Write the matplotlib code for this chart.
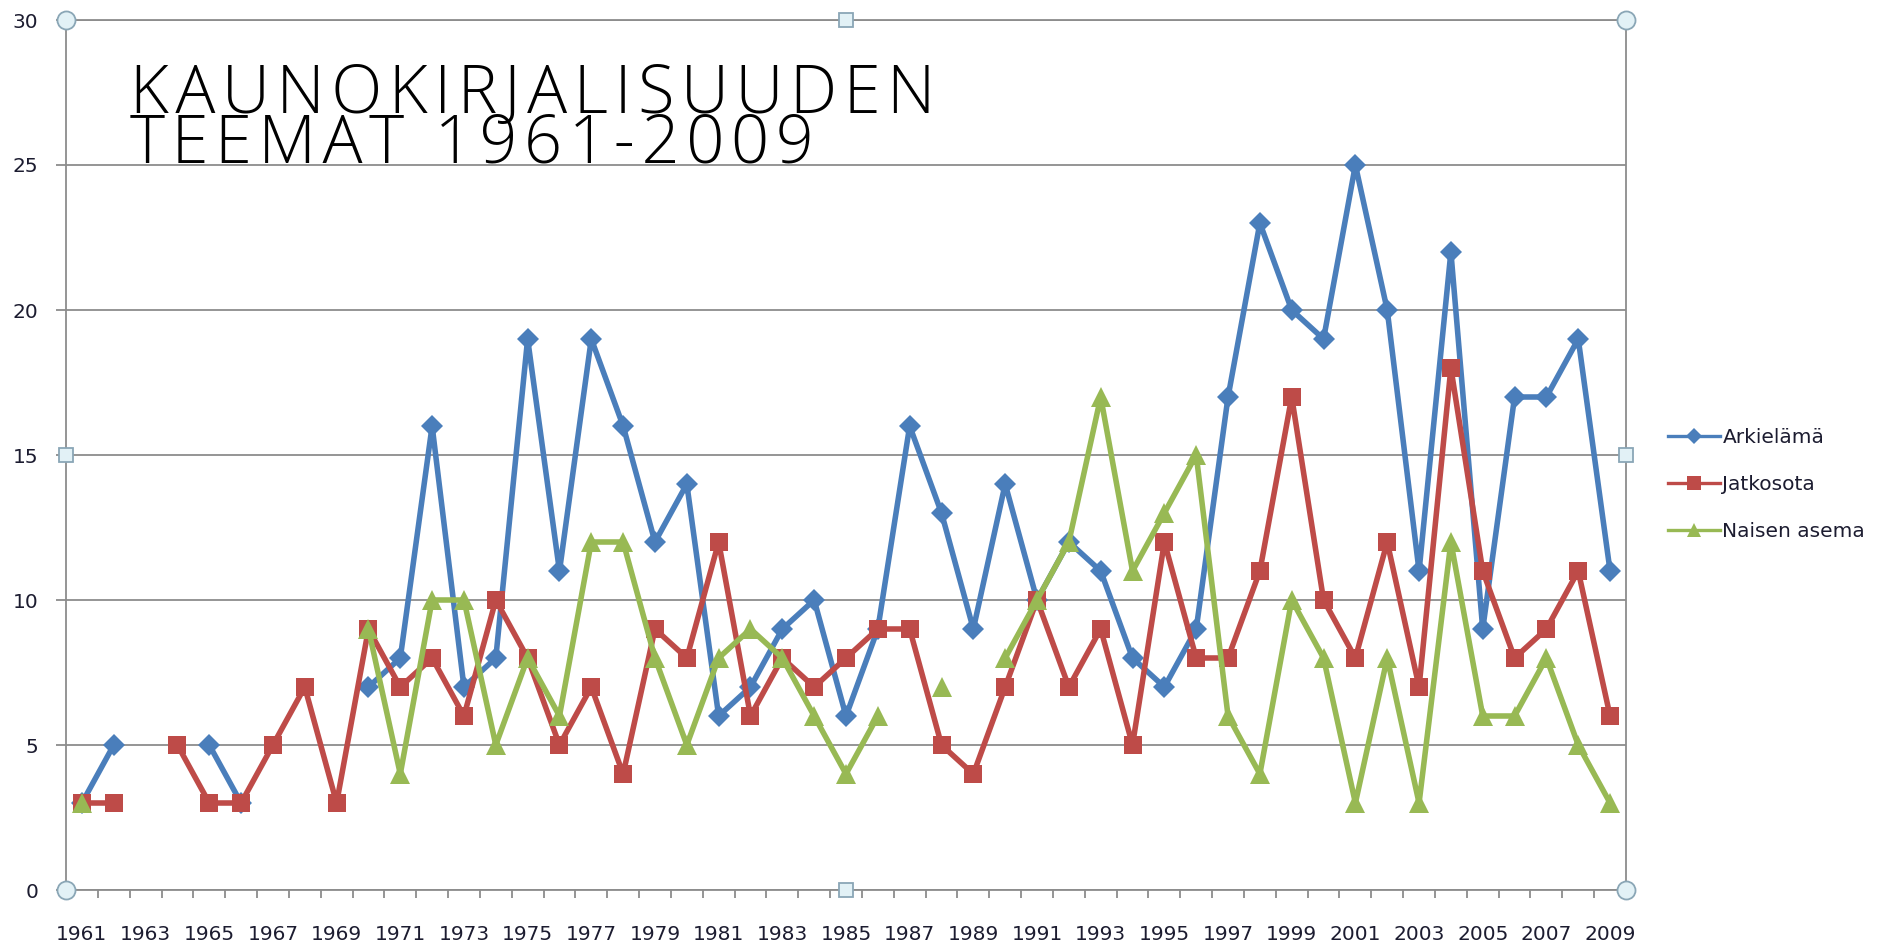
import matplotlib
matplotlib.use('Agg')
import matplotlib.pyplot as plt
from matplotlib.lines import Line2D
import numpy as np

plt.rcParams['font.family'] = ['DejaVu Sans']

nan = np.nan
years = list(range(1961, 2010))
# Arkielämä
arkielama = [3, 5, nan, nan, 5, 3, nan, nan, nan, 7, 8, 16, 7, 8, 19, 11, 19, 16, 12, 14,
             6, 7, 9, 10, 6, 9, 16, 13, 9, 14, 10, 12, 11, 8, 7, 9, 17, 23, 20, 19,
             25, 20, 11, 22, 9, 17, 17, 19, 11]
# Jatkosota
jatkosota = [3, 3, nan, 5, 3, 3, 5, 7, 3, 9, 7, 8, 6, 10, 8, 5, 7, 4, 9, 8,
             12, 6, 8, 7, 8, 9, 9, 5, 4, 7, 10, 7, 9, 5, 12, 8, 8, 11, 17, 10,
             8, 12, 7, 18, 11, 8, 9, 11, 6]
# Naisen asema
naisen_asema = [3, nan, nan, nan, nan, nan, nan, nan, nan, 9, 4, 10, 10, 5, 8, 6, 12, 12, 8, 5,
                8, 9, 8, 6, 4, 6, nan, 7, nan, 8, 10, 12, 17, 11, 13, 15, 6, 4, 10, 8,
                3, 8, 3, 12, 6, 6, 8, 5, 3]

series_names = ['Arkielämä', 'Jatkosota', 'Naisen asema']
title_lines = ['KAUNOKIRJALISUUDEN', 'TEEMAT 1961-2009']
colors = ['#4A7EBB', '#BE4B48', '#98B954']
markers = ['D', 's', '^']
msizes = [11.5, 13.5, 14]

fig = plt.figure(figsize=(18.9, 9.46), dpi=100)
ax = fig.add_axes([66 / 1890, 56 / 946, 1560 / 1890, 870 / 946])

x = np.arange(len(years))
for vals, c, m, ms in zip([arkielama, jatkosota, naisen_asema], colors, markers, msizes):
    ax.plot(x, np.array(vals, dtype=float), color=c, lw=4, marker=m, ms=ms,
            markeredgewidth=0, solid_joinstyle='round', zorder=3)

ax.set_xlim(-0.5, len(years) - 0.5)
ax.set_ylim(0, 30)
ax.set_yticks(range(0, 31, 5))
ax.grid(axis='y', color='#8c8c8c', lw=1.3)
ax.set_axisbelow(True)
for sp in ax.spines.values():
    sp.set_color('#8c8c8c')
    sp.set_linewidth(1.3)

ax.set_xticks(x[::2])
ax.set_xticklabels([str(y) for y in years[::2]])
ax.set_xticks(np.arange(-0.5, len(years), 1), minor=True)
ax.tick_params(axis='x', which='major', length=0, pad=25, labelsize=14.5, labelcolor='#1c1c30')
ax.tick_params(axis='x', which='minor', length=6, width=1.3, color='#8c8c8c')
ax.tick_params(axis='y', length=7, width=1.3, color='#8c8c8c', labelsize=14.5,
               labelcolor='#1c1c30', pad=13)

# selection handles
hkw = dict(transform=ax.transAxes, clip_on=False, ls='none', zorder=5,
           markerfacecolor='#e2f1f6', markeredgecolor='#8aa6b6', markeredgewidth=1.3)
ax.plot([0, 0, 1, 1], [0, 1, 0, 1], marker='o', ms=13, **hkw)
ax.plot([0.5, 0.5, 0, 1], [0, 1, 0.5, 0.5], marker='s', ms=10.5, **hkw)

# title, letter-spaced with hair spaces to match the original width
tkw = dict(family=['Open Sans', 'DejaVu Sans'], fontsize=48, fontweight='light', color='black')
r = fig.canvas.get_renderer()


def spaced(line, target):
    best = None
    for sep in ['', '\u200a', '\u2009', '\u200a\u200a', '\u2009\u200a']:
        s = sep.join(line)
        t = ax.text(0, 0, s, **tkw)
        w = t.get_window_extent(r).width
        t.remove()
        if best is None or abs(w - target) < best[0]:
            best = (abs(w - target), s)
    return best[1]


title = spaced(title_lines[0], 826) + '\n' + spaced(title_lines[1], 680)
# baseline alignment of a multi-line text uses the last line
ax.text(0.041, 25.1, title, transform=ax.get_yaxis_transform(), va='baseline', ha='left',
        linespacing=0.66, **tkw)

handles = [Line2D([], [], color=c, lw=2.4, marker=m, ms=ms * 0.75, markeredgewidth=0)
           for c, m, ms in zip(colors, markers, msizes)]
fig.legend(handles, series_names, loc='center left', bbox_to_anchor=(0.873, 0.488),
           frameon=False, fontsize=14.5, handlelength=2.6, handletextpad=0.1,
           labelspacing=1.4, labelcolor='#1c1c30')

fig.savefig('out.png', dpi=100)
